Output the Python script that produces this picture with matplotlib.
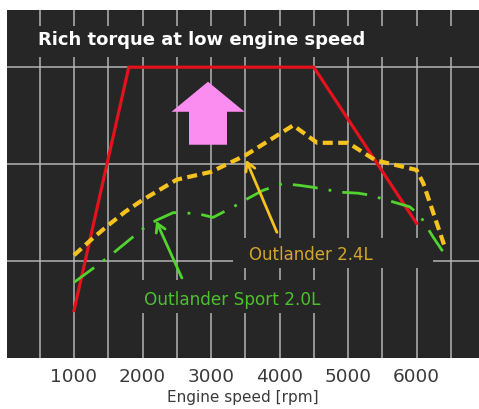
import matplotlib
matplotlib.use("Agg")
import matplotlib.pyplot as plt
from matplotlib.patches import Rectangle

BG = "#262626"

# red: new engine (flat torque), yellow: Outlander 2.4L, green: Outlander Sport 2.0L
red_rpm = [1000, 1800, 4500, 6000]
red_torque = [0.49, 3.0, 3.0, 1.39]

yellow_rpm = [1000, 1250, 1500, 1750, 2000, 2500, 3000, 3500, 4200, 4550, 5000, 5400, 6000, 6100, 6420]
yellow_torque = [1.06, 1.22, 1.37, 1.51, 1.63, 1.84, 1.92, 2.09, 2.40, 2.22, 2.22, 2.04, 1.94, 1.80, 1.13]

green_rpm = [1000, 1500, 2000, 2200, 2450, 2800, 3030, 3380, 3550, 3760, 4050, 4300, 4500, 4900, 5150, 5320, 5900, 6050, 6240, 6450]
green_torque = [0.78, 1.04, 1.33, 1.42, 1.50, 1.49, 1.45, 1.58, 1.65, 1.73, 1.80, 1.78, 1.76, 1.71, 1.70, 1.68, 1.56, 1.47, 1.25, 1.03]

xticks = [1000, 2000, 3000, 4000, 5000, 6000]
vgrid = list(range(500, 7001, 500))
hgrid = [1, 2, 3]

fig = plt.figure(figsize=(4.79, 4.09), dpi=100)
ax = fig.add_axes([7 / 479, 51 / 409, 472 / 479, 348 / 409])
ax.set_facecolor(BG)
ax.set_xlim(22, 6912)
ax.set_ylim(0, 3.59)

for x in vgrid:
    ax.axvline(x, color="#b4b4b4", lw=1.1, zorder=1)
for y in hgrid:
    ax.axhline(y, color="#b4b4b4", lw=1.1, zorder=1)

# background bands that hide the grid behind the texts
ax.axhspan(3.10, 3.43, color=BG, lw=0, zorder=1.5)
ax.add_patch(Rectangle((3321, 0.93), 2920, 0.31, color=BG, lw=0, zorder=1.5))
ax.add_patch(Rectangle((1818, 0.46), 2919, 0.34, color=BG, lw=0, zorder=1.5))

ax.text(474, 3.285, "Rich torque at low engine speed", color="white",
        fontsize=13, fontweight="bold", va="center", ha="left", zorder=4)

ax.plot(red_rpm, red_torque, color="#e3121c", lw=2.3, zorder=3)
ax.plot(yellow_rpm, yellow_torque, color="#f5c21f", lw=3, dashes=(2.4, 1.3), zorder=3)
ax.plot(green_rpm, green_torque, color="#52d42f", lw=2, dashes=(9, 4, 1, 4), zorder=3)

# pink arrow
ax.arrow(2956, 2.20, 0, 0.65, width=555, head_width=1066, head_length=0.31,
         length_includes_head=True, color="#fb8cf0", lw=0, zorder=3)

ax.annotate("", xy=(3496, 2.07), xytext=(3978, 1.27),
            arrowprops=dict(arrowstyle="->,head_length=0.6,head_width=0.35", color="#f5c21f", lw=2),
            zorder=4)
ax.annotate("", xy=(2182, 1.44), xytext=(2591, 0.80),
            arrowprops=dict(arrowstyle="->,head_length=0.6,head_width=0.35", color="#52d42f", lw=2),
            zorder=4)

ax.text(4460, 1.06, "Outlander 2.4L", color="#d3a72a", fontsize=12,
        ha="center", va="center", zorder=4)
ax.text(3307, 0.60, "Outlander Sport 2.0L", color="#4cc22a", fontsize=12.2,
        ha="center", va="center", zorder=4)

ax.set_xticks(xticks)
ax.set_xticklabels([str(v) for v in xticks])
ax.set_yticks([])
ax.tick_params(axis="x", length=0, pad=7, labelsize=13.3, labelcolor="#3a3a3a")
for s in ax.spines.values():
    s.set_visible(False)
ax.set_xlabel("Engine speed [rpm]", fontsize=11, color="#3a3a3a", labelpad=3)

fig.savefig("out.png", dpi=100, facecolor="white")
